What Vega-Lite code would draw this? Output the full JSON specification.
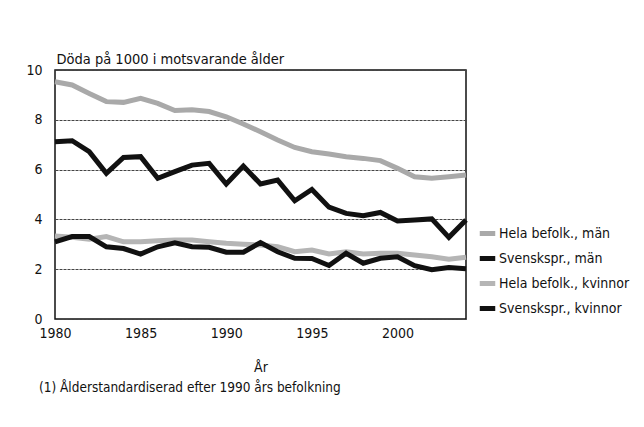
{
  "$schema": "https://vega.github.io/schema/vega-lite/v6.json",
  "width": 411,
  "height": 249,
  "autosize": "none",
  "padding": {"left": 55, "top": 70, "right": 178, "bottom": 108},
  "background": "white",
  "title": {
    "text": "(1) Ålderstandardiserad efter 1990 års befolkning",
    "orient": "bottom",
    "anchor": "start",
    "dx": 13,
    "offset": 7,
    "font": "DejaVu Sans Condensed, Roboto, sans-serif",
    "fontSize": 13.5,
    "fontWeight": "normal",
    "color": "#111"
  },
  "config": {
    "font": "DejaVu Sans Condensed, Roboto, sans-serif",
    "view": {"stroke": "#111", "strokeWidth": 1.5},
    "axis": {"labelFont": "DejaVu Sans Condensed, Roboto, sans-serif", "titleFont": "DejaVu Sans Condensed, Roboto, sans-serif", "labelColor": "#111", "titleColor": "#111"}
  },
  "data": {
    "values": [
      {"ar": 1980, "serie": "Hela befolk., män", "v": 9.53},
      {"ar": 1981, "serie": "Hela befolk., män", "v": 9.40},
      {"ar": 1982, "serie": "Hela befolk., män", "v": 9.06},
      {"ar": 1983, "serie": "Hela befolk., män", "v": 8.73},
      {"ar": 1984, "serie": "Hela befolk., män", "v": 8.70},
      {"ar": 1985, "serie": "Hela befolk., män", "v": 8.86},
      {"ar": 1986, "serie": "Hela befolk., män", "v": 8.66},
      {"ar": 1987, "serie": "Hela befolk., män", "v": 8.37},
      {"ar": 1988, "serie": "Hela befolk., män", "v": 8.40},
      {"ar": 1989, "serie": "Hela befolk., män", "v": 8.33},
      {"ar": 1990, "serie": "Hela befolk., män", "v": 8.12},
      {"ar": 1991, "serie": "Hela befolk., män", "v": 7.83},
      {"ar": 1992, "serie": "Hela befolk., män", "v": 7.52},
      {"ar": 1993, "serie": "Hela befolk., män", "v": 7.19},
      {"ar": 1994, "serie": "Hela befolk., män", "v": 6.89},
      {"ar": 1995, "serie": "Hela befolk., män", "v": 6.72},
      {"ar": 1996, "serie": "Hela befolk., män", "v": 6.63},
      {"ar": 1997, "serie": "Hela befolk., män", "v": 6.52},
      {"ar": 1998, "serie": "Hela befolk., män", "v": 6.45},
      {"ar": 1999, "serie": "Hela befolk., män", "v": 6.36},
      {"ar": 2000, "serie": "Hela befolk., män", "v": 6.05},
      {"ar": 2001, "serie": "Hela befolk., män", "v": 5.71},
      {"ar": 2002, "serie": "Hela befolk., män", "v": 5.65},
      {"ar": 2003, "serie": "Hela befolk., män", "v": 5.71},
      {"ar": 2004, "serie": "Hela befolk., män", "v": 5.78},
      {"ar": 1980, "serie": "Svenskspr., män", "v": 7.12},
      {"ar": 1981, "serie": "Svenskspr., män", "v": 7.16},
      {"ar": 1982, "serie": "Svenskspr., män", "v": 6.72},
      {"ar": 1983, "serie": "Svenskspr., män", "v": 5.85},
      {"ar": 1984, "serie": "Svenskspr., män", "v": 6.49},
      {"ar": 1985, "serie": "Svenskspr., män", "v": 6.52},
      {"ar": 1986, "serie": "Svenskspr., män", "v": 5.65},
      {"ar": 1987, "serie": "Svenskspr., män", "v": 5.92},
      {"ar": 1988, "serie": "Svenskspr., män", "v": 6.18},
      {"ar": 1989, "serie": "Svenskspr., män", "v": 6.25},
      {"ar": 1990, "serie": "Svenskspr., män", "v": 5.42},
      {"ar": 1991, "serie": "Svenskspr., män", "v": 6.14},
      {"ar": 1992, "serie": "Svenskspr., män", "v": 5.42},
      {"ar": 1993, "serie": "Svenskspr., män", "v": 5.58},
      {"ar": 1994, "serie": "Svenskspr., män", "v": 4.75},
      {"ar": 1995, "serie": "Svenskspr., män", "v": 5.20},
      {"ar": 1996, "serie": "Svenskspr., män", "v": 4.49},
      {"ar": 1997, "serie": "Svenskspr., män", "v": 4.24},
      {"ar": 1998, "serie": "Svenskspr., män", "v": 4.15},
      {"ar": 1999, "serie": "Svenskspr., män", "v": 4.28},
      {"ar": 2000, "serie": "Svenskspr., män", "v": 3.94},
      {"ar": 2001, "serie": "Svenskspr., män", "v": 3.98},
      {"ar": 2002, "serie": "Svenskspr., män", "v": 4.02},
      {"ar": 2003, "serie": "Svenskspr., män", "v": 3.28},
      {"ar": 2004, "serie": "Svenskspr., män", "v": 3.98},
      {"ar": 1980, "serie": "Hela befolk., kvinnor", "v": 3.33},
      {"ar": 1981, "serie": "Hela befolk., kvinnor", "v": 3.28},
      {"ar": 1982, "serie": "Hela befolk., kvinnor", "v": 3.20},
      {"ar": 1983, "serie": "Hela befolk., kvinnor", "v": 3.31},
      {"ar": 1984, "serie": "Hela befolk., kvinnor", "v": 3.10},
      {"ar": 1985, "serie": "Hela befolk., kvinnor", "v": 3.10},
      {"ar": 1986, "serie": "Hela befolk., kvinnor", "v": 3.14},
      {"ar": 1987, "serie": "Hela befolk., kvinnor", "v": 3.17},
      {"ar": 1988, "serie": "Hela befolk., kvinnor", "v": 3.17},
      {"ar": 1989, "serie": "Hela befolk., kvinnor", "v": 3.10},
      {"ar": 1990, "serie": "Hela befolk., kvinnor", "v": 3.04},
      {"ar": 1991, "serie": "Hela befolk., kvinnor", "v": 3.00},
      {"ar": 1992, "serie": "Hela befolk., kvinnor", "v": 2.97},
      {"ar": 1993, "serie": "Hela befolk., kvinnor", "v": 2.90},
      {"ar": 1994, "serie": "Hela befolk., kvinnor", "v": 2.70},
      {"ar": 1995, "serie": "Hela befolk., kvinnor", "v": 2.77},
      {"ar": 1996, "serie": "Hela befolk., kvinnor", "v": 2.61},
      {"ar": 1997, "serie": "Hela befolk., kvinnor", "v": 2.70},
      {"ar": 1998, "serie": "Hela befolk., kvinnor", "v": 2.61},
      {"ar": 1999, "serie": "Hela befolk., kvinnor", "v": 2.64},
      {"ar": 2000, "serie": "Hela befolk., kvinnor", "v": 2.64},
      {"ar": 2001, "serie": "Hela befolk., kvinnor", "v": 2.57},
      {"ar": 2002, "serie": "Hela befolk., kvinnor", "v": 2.50},
      {"ar": 2003, "serie": "Hela befolk., kvinnor", "v": 2.40},
      {"ar": 2004, "serie": "Hela befolk., kvinnor", "v": 2.48},
      {"ar": 1980, "serie": "Svenskspr., kvinnor", "v": 3.10},
      {"ar": 1981, "serie": "Svenskspr., kvinnor", "v": 3.31},
      {"ar": 1982, "serie": "Svenskspr., kvinnor", "v": 3.31},
      {"ar": 1983, "serie": "Svenskspr., kvinnor", "v": 2.90},
      {"ar": 1984, "serie": "Svenskspr., kvinnor", "v": 2.83},
      {"ar": 1985, "serie": "Svenskspr., kvinnor", "v": 2.61},
      {"ar": 1986, "serie": "Svenskspr., kvinnor", "v": 2.90},
      {"ar": 1987, "serie": "Svenskspr., kvinnor", "v": 3.06},
      {"ar": 1988, "serie": "Svenskspr., kvinnor", "v": 2.90},
      {"ar": 1989, "serie": "Svenskspr., kvinnor", "v": 2.88},
      {"ar": 1990, "serie": "Svenskspr., kvinnor", "v": 2.68},
      {"ar": 1991, "serie": "Svenskspr., kvinnor", "v": 2.68},
      {"ar": 1992, "serie": "Svenskspr., kvinnor", "v": 3.07},
      {"ar": 1993, "serie": "Svenskspr., kvinnor", "v": 2.70},
      {"ar": 1994, "serie": "Svenskspr., kvinnor", "v": 2.44},
      {"ar": 1995, "serie": "Svenskspr., kvinnor", "v": 2.43},
      {"ar": 1996, "serie": "Svenskspr., kvinnor", "v": 2.15},
      {"ar": 1997, "serie": "Svenskspr., kvinnor", "v": 2.64},
      {"ar": 1998, "serie": "Svenskspr., kvinnor", "v": 2.24},
      {"ar": 1999, "serie": "Svenskspr., kvinnor", "v": 2.44},
      {"ar": 2000, "serie": "Svenskspr., kvinnor", "v": 2.50},
      {"ar": 2001, "serie": "Svenskspr., kvinnor", "v": 2.14},
      {"ar": 2002, "serie": "Svenskspr., kvinnor", "v": 1.98},
      {"ar": 2003, "serie": "Svenskspr., kvinnor", "v": 2.07},
      {"ar": 2004, "serie": "Svenskspr., kvinnor", "v": 2.02}
    ]
  },
  "mark": {"type": "line", "strokeJoin": "miter", "strokeCap": "butt"},
  "encoding": {
    "x": {
      "field": "ar", "type": "quantitative",
      "scale": {"domain": [1980, 2004], "nice": false, "zero": false},
      "axis": {
        "title": "År", "titleFontSize": 14, "titleFontWeight": "normal", "titlePadding": 20,
        "values": [1980, 1985, 1990, 1995, 2000], "format": "d",
        "labelFontSize": 14, "labelPadding": 7, "labelFlush": false,
        "ticks": false, "grid": false, "domain": false
      }
    },
    "y": {
      "field": "v", "type": "quantitative",
      "scale": {"domain": [0, 10], "nice": false},
      "axis": {
        "title": "Döda på 1000 i motsvarande ålder",
        "titleAngle": 0, "titleX": 1, "titleY": -7, "titleAlign": "left", "titleBaseline": "alphabetic",
        "titleFontSize": 14.5, "titleFontWeight": "normal",
        "values": [0, 2, 4, 6, 8, 10],
        "labelFontSize": 14, "labelPadding": 13, "ticks": false, "domain": false,
        "grid": true, "gridColor": "#444", "gridDash": [3, 1], "gridWidth": 1
      }
    },
    "color": {
      "field": "serie", "type": "nominal",
      "scale": {
        "domain": ["Hela befolk., män", "Svenskspr., män", "Hela befolk., kvinnor", "Svenskspr., kvinnor"],
        "range": ["#a9a9a9", "#111111", "#b5b5b5", "#111111"]
      },
      "legend": {
        "title": null, "orient": "none", "legendX": 422, "legendY": 153,
        "symbolType": "stroke", "symbolSize": 240, "rowPadding": 4,
        "labelFont": "DejaVu Sans Condensed, Roboto, sans-serif", "labelFontSize": 14, "labelColor": "#111",
        "labelOffset": 1
      }
    },
    "strokeWidth": {
      "field": "serie", "type": "nominal",
      "scale": {
        "domain": ["Hela befolk., män", "Svenskspr., män", "Hela befolk., kvinnor", "Svenskspr., kvinnor"],
        "range": [5, 5, 3, 2.5]
      },
      "legend": null
    },
    "order": {"field": "ar", "type": "quantitative"}
  }
}
